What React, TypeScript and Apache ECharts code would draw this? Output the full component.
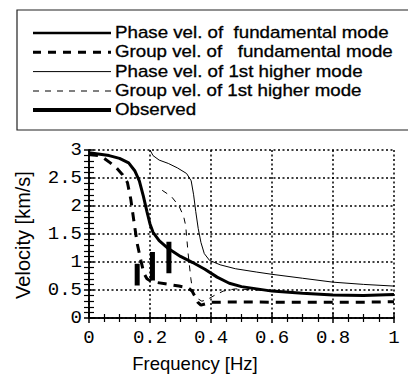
import React, { useEffect, useRef } from "react";
import * as echarts from "echarts";

const phaseFund: number[][] = [
  [0, 2.95], [0.03, 2.93], [0.066, 2.9], [0.1, 2.85], [0.13, 2.77], [0.15, 2.63],
  [0.165, 2.45], [0.178, 2.18], [0.19, 1.9], [0.2, 1.68], [0.21, 1.53], [0.23, 1.38],
  [0.26, 1.24], [0.3, 1.1], [0.34, 0.99], [0.38, 0.87], [0.42, 0.73], [0.46, 0.62],
  [0.5, 0.56], [0.55, 0.52], [0.6, 0.48], [0.7, 0.44], [0.8, 0.41], [0.9, 0.4], [1.0, 0.42],
];

const groupFund: number[][] = [
  [0, 2.92], [0.03, 2.9], [0.05, 2.85], [0.07, 2.77], [0.09, 2.68], [0.11, 2.56],
  [0.126, 2.42], [0.137, 2.12], [0.148, 1.7], [0.158, 1.33], [0.17, 1.03], [0.18, 0.8],
  [0.19, 0.7], [0.205, 0.65], [0.25, 0.61], [0.295, 0.57], [0.325, 0.54], [0.338, 0.48],
  [0.348, 0.38], [0.357, 0.28], [0.367, 0.23], [0.38, 0.25], [0.4, 0.28], [0.45, 0.285],
  [0.55, 0.285], [0.65, 0.28], [0.75, 0.28], [0.85, 0.28], [0.95, 0.285], [1, 0.29],
];

const phaseHigher: number[][] = [
  [0.2, 3.0], [0.21, 2.9], [0.23, 2.82], [0.26, 2.76], [0.29, 2.68], [0.32, 2.58],
  [0.335, 2.45], [0.343, 2.2], [0.35, 1.9], [0.358, 1.6], [0.367, 1.35], [0.378, 1.15],
  [0.395, 1.03], [0.43, 0.95], [0.48, 0.88], [0.55, 0.82], [0.6, 0.78], [0.7, 0.71],
  [0.8, 0.64], [0.9, 0.6], [1.0, 0.57],
];

const groupHigher: number[][] = [
  [0.24, 2.28], [0.27, 2.17], [0.295, 2.0], [0.31, 1.82], [0.317, 1.65], [0.321, 1.4],
  [0.325, 1.15], [0.329, 0.95], [0.334, 0.7], [0.339, 0.52], [0.345, 0.42], [0.355, 0.35],
  [0.37, 0.3], [0.388, 0.33], [0.41, 0.4], [0.44, 0.48], [0.48, 0.52], [0.55, 0.5],
  [0.65, 0.46], [0.75, 0.43], [0.85, 0.41], [1, 0.4],
];

const observedX: number[] = [0.158, 0.208, 0.262];
const observedLow: number[] = [0.58, 0.67, 0.8];
const observedHigh: number[] = [0.97, 1.18, 1.36];

const legendLabels: string[] = [
  "Phase vel. of  fundamental mode",
  "Group vel. of   fundamental mode",
  "Phase vel. of 1st higher mode",
  "Group vel. of 1st higher mode",
  "Observed",
];

const xName = "Frequency [Hz]";
const yName = "Velocity [km/s]";

export default function App() {
  const ref = useRef<HTMLDivElement>(null);
  useEffect(() => {
    if (!ref.current) return;
    const chart = echarts.init(ref.current, null, { renderer: "svg" });
    const monoLabel = { fontFamily: "Liberation Mono", fontSize: 19, color: "#000" };
    const tickCommon = {
      axisLine: { show: true, lineStyle: { color: "#000", width: 1.5 } },
      axisTick: { show: true, inside: true, length: 5, lineStyle: { color: "#000", width: 1.5 } },
    };
    const legendStyles = [
      { lineWidth: 2.4, lineDash: null as any },
      { lineWidth: 3, lineDash: [8, 7] },
      { lineWidth: 1, lineDash: null as any },
      { lineWidth: 1, lineDash: [6, 6] },
      { lineWidth: 4, lineDash: null as any },
    ];
    const rowY = [33, 52.3, 71.6, 91, 110];
    const graphics: any[] = [
      {
        type: "rect",
        shape: { x: 17, y: 10, width: 420, height: 120 },
        style: { fill: "none", stroke: "#222", lineWidth: 1.2 },
      },
    ];
    legendLabels.forEach((t, i) => {
      graphics.push({
        type: "line",
        shape: { x1: 33, y1: rowY[i], x2: 111, y2: rowY[i] },
        style: { stroke: "#000", lineWidth: legendStyles[i].lineWidth, lineDash: legendStyles[i].lineDash },
      });
      graphics.push({
        type: "text",
        x: 115,
        y: rowY[i] - 0.5,
        scaleX: 1.17,
        style: {
          text: t,
          fontFamily: "Liberation Sans",
          fontSize: 16,
          fill: "#000",
          stroke: "#000",
          lineWidth: 0.3,
          verticalAlign: "middle",
          align: "left",
        },
      });
    });
    graphics.push({
      type: "text",
      x: 195,
      y: 363,
      style: { text: xName, fontFamily: "Liberation Sans", fontSize: 18.5, fill: "#000", align: "center", verticalAlign: "middle" },
    });
    graphics.push({
      type: "text",
      x: 23,
      y: 235,
      rotation: Math.PI / 2,
      style: { text: yName, fontFamily: "Liberation Sans", fontSize: 20, fill: "#000", align: "center", verticalAlign: "middle" },
    });

    const lineSeries = (data: number[][], width: number, dash: any, z = 2) => ({
      type: "line",
      data,
      showSymbol: false,
      symbol: "none",
      smooth: false,
      z,
      lineStyle: { color: "#000", width, type: dash },
      xAxisIndex: 0,
      yAxisIndex: 0,
    });

    const series: any[] = [
      lineSeries(phaseFund, 3, "solid", 3),
      lineSeries(groupFund, 3, [9, 7], 3),
      lineSeries(phaseHigher, 1, "solid", 3),
      lineSeries(groupHigher, 1, [6, 6], 3),
    ];
    observedX.forEach((x, i) => {
      series.push(lineSeries([[x, observedLow[i]], [x, observedHigh[i]]], 5, "solid", 4));
    });

    chart.setOption({
      animation: false,
      backgroundColor: "#fff",
      grid: { left: 89, right: 14, top: 150, bottom: 56 },
      graphic: graphics,
      xAxis: [
        {
          type: "value", min: 0, max: 1, interval: 0.2, position: "bottom",
          ...tickCommon,
          minorTick: { show: true, splitNumber: 4, length: 4, lineStyle: { color: "#000", width: 1.2 } },
          splitLine: { show: true, lineStyle: { color: "#000", width: 1.5, type: [2, 2.5] } },
          axisLabel: { ...monoLabel, margin: 10 },
        },
        {
          type: "value", min: 0, max: 1, interval: 0.2, position: "top",
          ...tickCommon,
          minorTick: { show: true, splitNumber: 4, length: 4, lineStyle: { color: "#000", width: 1.2 } },
          splitLine: { show: false },
          axisLabel: { show: false },
        },
      ],
      yAxis: [
        {
          type: "value", min: 0, max: 3, interval: 0.5, position: "left",
          ...tickCommon,
          minorTick: { show: true, splitNumber: 5, length: 5, lineStyle: { color: "#000", width: 1.2 } },
          splitLine: { show: true, lineStyle: { color: "#000", width: 1.5, type: [2, 2.5] } },
          axisLabel: { ...monoLabel, margin: 7 },
        },
        {
          type: "value", min: 0, max: 3, interval: 0.5, position: "right",
          ...tickCommon,
          minorTick: { show: true, splitNumber: 5, length: 5, lineStyle: { color: "#000", width: 1.2 } },
          splitLine: { show: false },
          axisLabel: { show: false },
        },
      ],
      series,
    });
    return () => chart.dispose();
  }, []);
  return (
    <div
      ref={ref}
      style={{ position: "fixed", left: 0, top: 0, width: 408, height: 374, background: "#fff" }}
    />
  );
}
